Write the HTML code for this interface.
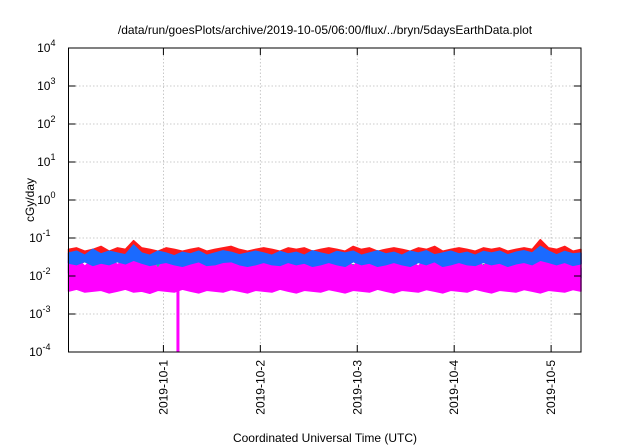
<!DOCTYPE html>
<html><head><meta charset="utf-8"><style>
html,body{margin:0;padding:0;background:#fff;width:640px;height:448px;overflow:hidden}
svg text{font-family:"Liberation Sans",sans-serif;fill:#000}
</style></head><body>
<svg id="chart" width="640" height="448" viewBox="0 0 640 448" xmlns="http://www.w3.org/2000/svg">
<text x="325" y="34" font-size="12" text-anchor="middle">/data/run/goesPlots/archive/2019-10-05/06:00/flux/../bryn/5daysEarthData.plot</text>
<text transform="translate(34,200) rotate(-90)" font-size="12" text-anchor="middle">cGy/day</text>
<text x="325" y="442" font-size="12" text-anchor="middle">Coordinated Universal Time (UTC)</text>
<g id="grid"></g>
<g id="series"></g>
<g id="axes"></g>
</svg>
<script>
const yTickExps=[4,3,2,1,0,-1,-2,-3,-4];
const xTickLabels=["2019-10-1","2019-10-2","2019-10-3","2019-10-4","2019-10-5"];
const xTickHours=[23.5,47.5,71.5,95.5,119.5];
const redHigh=[0.05,0.055,0.045,0.05,0.06,0.045,0.055,0.05,0.085,0.055,0.05,0.045,0.055,0.05,0.045,0.05,0.055,0.045,0.05,0.055,0.06,0.05,0.045,0.05,0.055,0.05,0.045,0.055,0.05,0.055,0.045,0.05,0.055,0.05,0.045,0.06,0.05,0.055,0.045,0.05,0.055,0.05,0.045,0.055,0.05,0.06,0.045,0.05,0.055,0.05,0.045,0.055,0.05,0.055,0.045,0.05,0.055,0.05,0.09,0.055,0.05,0.06,0.045,0.05];
const blueHigh=[0.04,0.045,0.035,0.05,0.038,0.045,0.04,0.036,0.065,0.04,0.035,0.045,0.04,0.034,0.042,0.038,0.045,0.035,0.04,0.046,0.042,0.036,0.04,0.045,0.04,0.035,0.044,0.038,0.042,0.035,0.046,0.04,0.036,0.044,0.04,0.045,0.035,0.04,0.046,0.038,0.042,0.035,0.045,0.04,0.046,0.036,0.04,0.045,0.038,0.042,0.035,0.044,0.04,0.045,0.036,0.042,0.046,0.04,0.06,0.045,0.036,0.044,0.038,0.04];
const blueLow=[0.022,0.02,0.024,0.019,0.022,0.02,0.024,0.021,0.026,0.022,0.019,0.021,0.023,0.02,0.018,0.021,0.024,0.019,0.02,0.023,0.024,0.02,0.018,0.02,0.023,0.02,0.019,0.023,0.02,0.022,0.018,0.02,0.023,0.02,0.018,0.024,0.02,0.022,0.018,0.02,0.023,0.02,0.018,0.023,0.02,0.024,0.018,0.02,0.023,0.02,0.019,0.023,0.02,0.022,0.018,0.021,0.023,0.02,0.026,0.023,0.02,0.023,0.019,0.021];
const tealHigh=[0.02,0.018,0.015,0.02,0.012,0.018,0.02,0.016,0.022,0.018,0.012,0.02,0.018,0.011,0.017,0.02,0.014,0.018,0.02,0.012,0.018,0.02,0.016,0.012,0.018,0.02,0.014,0.018,0.011,0.02,0.018,0.016,0.02,0.012,0.018,0.02,0.014,0.018,0.02,0.011,0.018,0.02,0.016,0.018,0.012,0.02,0.018,0.014,0.02,0.018,0.011,0.02,0.018,0.016,0.012,0.02,0.018,0.014,0.022,0.018,0.011,0.02,0.018,0.016];
const tealLow=[0.012,0.01,0.008,0.012,0.007,0.01,0.012,0.009,0.013,0.01,0.007,0.012,0.01,0.006,0.01,0.012,0.008,0.01,0.012,0.007,0.01,0.012,0.009,0.007,0.01,0.012,0.008,0.01,0.006,0.012,0.01,0.009,0.012,0.007,0.01,0.012,0.008,0.01,0.012,0.006,0.01,0.012,0.009,0.01,0.007,0.012,0.01,0.008,0.012,0.01,0.006,0.012,0.01,0.009,0.007,0.012,0.01,0.008,0.013,0.01,0.006,0.012,0.01,0.009];
const magentaHigh=[0.025,0.03,0.018,0.028,0.022,0.03,0.02,0.026,0.03,0.024,0.028,0.016,0.03,0.025,0.02,0.028,0.022,0.03,0.018,0.026,0.03,0.022,0.028,0.02,0.03,0.024,0.018,0.028,0.025,0.03,0.02,0.026,0.03,0.022,0.028,0.018,0.03,0.025,0.02,0.028,0.03,0.022,0.026,0.018,0.03,0.025,0.028,0.02,0.03,0.024,0.028,0.018,0.03,0.026,0.02,0.028,0.03,0.022,0.026,0.03,0.02,0.028,0.024,0.026];
const magentaLow=[0.004,0.0045,0.0038,0.004,0.0042,0.0036,0.004,0.0045,0.0038,0.004,0.0035,0.0042,0.004,0.0038,0.0045,0.004,0.0036,0.0042,0.004,0.0038,0.0044,0.004,0.0036,0.0042,0.004,0.0038,0.0045,0.004,0.0036,0.0042,0.004,0.0038,0.0044,0.004,0.0036,0.0042,0.004,0.0038,0.0045,0.004,0.0036,0.0042,0.004,0.0038,0.0044,0.004,0.0036,0.0042,0.004,0.0038,0.0045,0.004,0.0036,0.0042,0.004,0.0038,0.0044,0.004,0.0036,0.0042,0.004,0.0038,0.0044,0.004];
const dropHour=[27.1];
const dropValue=[0.0001];
const X0=68.5,X1=581,Y0=48,Y1=352,HMAX=126.9;
const xs=h=>X0+(h/HMAX)*(X1-X0);
const ys=v=>Math.min(Y1,Y0+(4-Math.log10(v))/8*(Y1-Y0));
const NS="http://www.w3.org/2000/svg";
function mk(tag,attrs,parent){const e=document.createElementNS(NS,tag);for(const k in attrs)e.setAttribute(k,attrs[k]);parent.appendChild(e);return e;}
const grid=document.getElementById('grid'),ser=document.getElementById('series'),axes=document.getElementById('axes');
yTickExps.forEach(e=>{const y=ys(Math.pow(10,e));
 if(e<4&&e>-4){const g=mk('line',{x1:X0,x2:X1,y1:y,y2:y,stroke:'#bbb','stroke-dasharray':'1.5,2','stroke-width':0.8},grid);
 
 }
 const t1=mk('line',{x1:X0,x2:X0+7,y1:y,y2:y,stroke:'#000'},axes);
 
 
 const t2=mk('line',{x1:X1-7,x2:X1,y1:y,y2:y,stroke:'#000'},axes);
 
 
 const tx=mk('text',{x:X0-8-(String(e).length*5),y:y+4,'font-size':12,'text-anchor':'end'},axes);
 
 
 tx.textContent='10';
 const sp=mk('tspan',{dy:-6,'font-size':9},tx);sp.textContent=String(e);
});
xTickHours.forEach((h,i)=>{const x=xs(h);
 const g=mk('line',{x1:x,x2:x,y1:Y0,y2:Y1,stroke:'#bbb','stroke-dasharray':'1.5,2','stroke-width':0.8},grid);
 
 
 const t1=mk('line',{x1:x,x2:x,y1:Y1-7,y2:Y1,stroke:'#000'},axes);
 
 
 const t2=mk('line',{x1:x,x2:x,y1:Y0,y2:Y0+7,stroke:'#000'},axes);
 
 
 const tx=mk('text',{transform:`translate(${x+4},${360}) rotate(-90)`,'font-size':12,'text-anchor':'end'},axes);
 
 
 tx.textContent=xTickLabels[i];
});
function band(hi,lo,color,name){
 const step=HMAX/(hi.length-1);
 const top=hi.map((v,i)=>xs(i*step).toFixed(1)+','+ys(v).toFixed(1));
 const bot=lo.map((v,i)=>xs(i*step).toFixed(1)+','+ys(v).toFixed(1)).reverse();
 const p=mk('polygon',{points:top.concat(bot).join(' '),fill:color,stroke:color,'stroke-width':1.5,'stroke-linejoin':'round'},ser);
 
 }
band(redHigh,blueLow,'#ff1a1a','series-red');
band(tealHigh,tealLow,'#1abc9c','series-teal');
band(magentaHigh,magentaLow,'#ff00ff','series-magenta');
band(blueHigh,blueLow,'#1a6aff','series-blue');
dropHour.forEach((h,i)=>{
 const d=mk('line',{x1:xs(h),x2:xs(h),y1:ys(0.006),y2:ys(dropValue[i]),stroke:'#ff00ff','stroke-width':3},ser);
 
 
});
const fr=mk('rect',{x:X0,y:Y0,width:X1-X0,height:Y1-Y0,fill:'none',stroke:'#000','stroke-width':1},axes);


</script>
</body></html>
